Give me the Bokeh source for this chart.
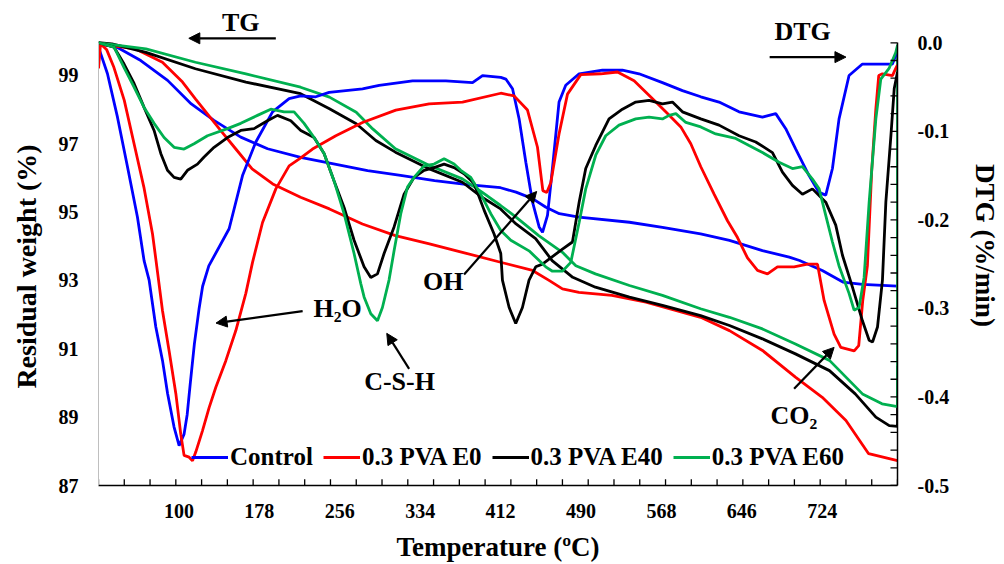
from bokeh.plotting import figure
from bokeh.models import (Range1d, LinearAxis, FixedTicker, Legend, LegendItem,
                          Label, Arrow, NormalHead, PrintfTickFormatter)
from bokeh.embed import file_html
from bokeh.resources import INLINE

# ---------------- data ----------------
x_tick_labels = [100, 178, 256, 334, 412, 490, 568, 646, 724]
x_tick_marks = list(range(22, 798, 25))
w_ticks = [87, 89, 91, 93, 95, 97, 99]
dtg_ticks = [0.0, -0.1, -0.2, -0.3, -0.4, -0.5]
dtg_minor_ticks = [round(-0.02 * k, 2) for k in range(0, 26)]

series_names = ["Control", "0.3 PVA E0", "0.3 PVA E40", "0.3 PVA E60"]
series_colors = ["#0000FF", "#FF0000", "#000000", "#00B050"]

# TG curves (left axis, residual weight %)
tg_control_t = [22, 40, 63, 89, 112, 134, 160, 186, 218, 250, 283, 315, 348, 380, 412, 427, 443, 456,
                469, 488, 537, 569, 606, 634, 666, 692, 702, 724, 744, 763, 797]
tg_control_w = [99.92, 99.82, 99.43, 98.85, 98.16, 97.68, 97.19, 96.85, 96.6, 96.41, 96.21, 96.07, 95.92,
                95.8, 95.71, 95.58, 95.39, 95.14, 94.95, 94.85, 94.70, 94.55, 94.36, 94.17, 93.87, 93.68,
                93.58, 93.29, 92.95, 92.88, 92.83]

tg_e0_t = [22, 58, 84, 103.5, 116, 129, 142, 155, 171, 191, 218, 246, 278, 310, 343, 375, 412, 443, 459,
           472, 488, 520, 553, 606, 634, 666, 698, 724, 747, 769, 797]
tg_e0_w = [99.92, 99.77, 99.38, 98.80, 98.31, 97.82, 97.33, 96.85, 96.26, 95.82, 95.43, 95.09, 94.65, 94.31,
           94.07, 93.82, 93.53, 93.29, 93.0, 92.75, 92.65, 92.56, 92.36, 91.92, 91.53, 90.95, 90.17, 89.58,
           88.90, 87.93, 87.73]

tg_e40_t = [22, 35, 68, 116, 165, 218, 246, 272, 291, 310, 343, 375, 394, 412, 427, 446, 462, 482, 504,
            537, 569, 606, 634, 666, 698, 731, 756, 776, 789, 797, 797]
tg_e40_w = [99.95, 99.92, 99.67, 99.19, 98.80, 98.46, 98.02, 97.58, 97.09, 96.75, 96.26, 95.87, 95.43,
            95.09, 94.65, 94.22, 93.58, 93.09, 92.80, 92.51, 92.27, 91.97, 91.68, 91.29, 90.85, 90.36,
            89.68, 89.0, 88.75, 88.73, 90.5]

tg_e60_t = [22, 68, 116, 165, 218, 246, 272, 288, 310, 343, 375, 394, 412, 427, 449, 472, 485, 504, 537,
            569, 606, 634, 666, 698, 731, 763, 782, 797, 797]
tg_e60_w = [99.95, 99.77, 99.38, 99.04, 98.65, 98.36, 97.92, 97.43, 96.85, 96.36, 95.97, 95.58, 95.19,
            94.85, 94.31, 93.82, 93.43, 93.19, 92.85, 92.56, 92.17, 91.92, 91.58, 91.14, 90.66, 89.68,
            89.39, 89.31, 99.9]

# DTG curves (right axis, %/min)
dtg_control_t = [22, 30.7, 40.4, 50.1, 59.8, 66.2, 71.1, 77.6, 84.1, 89, 95.3, 100.2, 105, 108, 111, 115,
                 119.6, 123, 129, 148.7, 161.7, 174.6, 190.8, 206.9, 218.2, 232.8, 245.7, 278.1, 294.2,
                 326.6, 358.9, 384.8, 394.5, 412.2, 417.1, 423.6, 430, 436.5, 443, 449.4, 452.7, 457.5,
                 462.3, 468.7, 475.2, 488.2, 510.8, 530.2, 546.3, 569, 588.4, 606.2, 623.9, 643.3, 666,
                 678.9, 688.6, 698.3, 711.2, 720.9, 727.4, 733.9, 740.3, 750, 763, 782.4, 792.1, 795.3, 797]
dtg_control_d = [-0.005, -0.035, -0.084, -0.140, -0.197, -0.246, -0.268, -0.321, -0.359, -0.396, -0.434,
                 -0.455, -0.442, -0.420, -0.385, -0.340, -0.300, -0.275, -0.252, -0.210, -0.150, -0.112,
                 -0.078, -0.063, -0.060, -0.061, -0.056, -0.052, -0.048, -0.043, -0.043, -0.045, -0.037,
                 -0.039, -0.041, -0.052, -0.086, -0.135, -0.180, -0.208, -0.214, -0.195, -0.142, -0.067,
                 -0.048, -0.035, -0.031, -0.031, -0.035, -0.045, -0.054, -0.061, -0.067, -0.078, -0.084,
                 -0.080, -0.097, -0.120, -0.150, -0.169, -0.172, -0.142, -0.086, -0.037, -0.024, -0.024,
                 -0.024, -0.014, -0.006]

dtg_e0_t = [22, 24, 30, 37, 47, 56.5, 66, 74.4, 77.8, 84, 90.5, 97, 101.8, 105, 109.9, 113.2, 116.4, 122.9,
            129.3, 135.8, 145.5, 155.2, 164.9, 171.4, 181.1, 194, 206.9, 218.2, 229.6, 252.2, 278.1, 310.4,
            342.7, 375.1, 412.2, 425.1, 438.1, 447.8, 453, 456.8, 460.7, 468.7, 476.9, 489.8, 509.2, 525.4,
            541.5, 551.2, 560.9, 573.9, 586.8, 596.5, 606.2, 619.1, 632.1, 641.8, 651.5, 661.2, 670.9,
            680.6, 696.7, 709.7, 719.4, 725.8, 735.5, 742, 748.5, 755, 759.4, 763.3, 767.8, 772, 775.9,
            778.8, 782.4, 792.1, 795.3, 797]
dtg_e0_d = [-0.029, -0.001, -0.008, -0.028, -0.065, -0.114, -0.163, -0.216, -0.246, -0.302, -0.348, -0.396,
            -0.442, -0.466, -0.468, -0.472, -0.462, -0.438, -0.412, -0.389, -0.359, -0.325, -0.283, -0.248,
            -0.203, -0.165, -0.139, -0.130, -0.120, -0.105, -0.090, -0.076, -0.069, -0.067, -0.057, -0.060,
            -0.076, -0.118, -0.167, -0.169, -0.158, -0.103, -0.058, -0.036, -0.035, -0.033, -0.043, -0.054,
            -0.065, -0.080, -0.095, -0.114, -0.140, -0.171, -0.201, -0.220, -0.243, -0.257, -0.261, -0.253,
            -0.253, -0.250, -0.250, -0.291, -0.329, -0.344, -0.346, -0.348, -0.342, -0.291, -0.252, -0.144,
            -0.076, -0.037, -0.035, -0.037, -0.029, -0.025]

dtg_e40_t = [22, 37.1, 46.8, 56.5, 66.2, 75.9, 82.4, 88.9, 95.3, 101.8, 108.3, 118, 124.4, 134.1, 147.1,
             160, 172.9, 185.9, 195.6, 208.5, 218.2, 231.1, 240.8, 250.5, 260.2, 269.9, 279.6, 286.1,
             292.6, 299, 308.7, 318.4, 328.1, 337.8, 347.5, 357.2, 366.9, 376.6, 386.3, 396, 405.7, 412.2,
             413.8, 420.3, 426.7, 433.2, 439.6, 446.1, 452.6, 472, 481.7, 488.2, 494.6, 504.3, 517.2, 530.2,
             543.1, 556, 569, 578.7, 588.4, 606.2, 623.9, 643.3, 659.5, 675.7, 685.4, 695.1, 704.8, 714.5,
             727.4, 737.1, 743.6, 753.3, 763, 769.5, 772.8, 777.6, 782.4, 785.7, 790.6, 793.8, 797]
dtg_e40_d = [0.0, -0.005, -0.024, -0.046, -0.073, -0.099, -0.125, -0.144, -0.152, -0.154, -0.144, -0.137,
             -0.129, -0.118, -0.107, -0.099, -0.097, -0.088, -0.082, -0.088, -0.099, -0.107, -0.125,
             -0.156, -0.186, -0.223, -0.253, -0.265, -0.261, -0.238, -0.208, -0.171, -0.152, -0.144,
             -0.141, -0.137, -0.141, -0.148, -0.159, -0.189, -0.216, -0.238, -0.268, -0.299, -0.317,
             -0.299, -0.268, -0.253, -0.250, -0.233, -0.225, -0.180, -0.142, -0.116, -0.086, -0.075,
             -0.067, -0.065, -0.069, -0.067, -0.078, -0.086, -0.093, -0.105, -0.112, -0.124, -0.146,
             -0.161, -0.171, -0.165, -0.180, -0.206, -0.240, -0.276, -0.314, -0.336, -0.338, -0.321,
             -0.268, -0.180, -0.105, -0.052, -0.033]

dtg_e60_t = [22, 37.1, 46.8, 56.5, 66.2, 75.9, 85.6, 95.3, 105, 114.7, 127.7, 147.1, 160, 176.2, 189.1,
             202, 211.7, 221.4, 231.1, 240.8, 250.5, 260.2, 269.9, 276.4, 279.6, 286.1, 292.6, 297.4, 303.8,
             308.7, 315.2, 321.7, 328.1, 337.8, 347.5, 357.2, 366.9, 373.4, 383.1, 392.8, 402.5, 412.2,
             421.9, 439.6, 455.8, 462.3, 472, 480.1, 488.2, 494.6, 504.3, 514, 526.9, 543.1, 556, 569,
             575.5, 582, 591.7, 606.2, 620.7, 640.1, 653, 666, 682.1, 695.1, 704.8, 714.5, 721, 727.4,
             733.9, 740.3, 750, 754.9, 759.7, 764.6, 769.5, 776, 780.8, 788.8, 795.3, 797]
dtg_e60_d = [0.0, -0.005, -0.028, -0.050, -0.073, -0.091, -0.107, -0.118, -0.120, -0.114, -0.105, -0.097,
             -0.091, -0.082, -0.075, -0.078, -0.078, -0.091, -0.107, -0.125, -0.156, -0.193, -0.238,
             -0.272, -0.287, -0.306, -0.314, -0.299, -0.268, -0.235, -0.193, -0.163, -0.152, -0.139,
             -0.137, -0.131, -0.137, -0.144, -0.152, -0.171, -0.193, -0.212, -0.223, -0.235, -0.253,
             -0.258, -0.258, -0.248, -0.203, -0.165, -0.127, -0.105, -0.093, -0.086, -0.084, -0.086,
             -0.082, -0.080, -0.090, -0.095, -0.103, -0.108, -0.116, -0.124, -0.135, -0.142, -0.140,
             -0.154, -0.165, -0.195, -0.225, -0.252, -0.283, -0.302, -0.299, -0.265, -0.180, -0.086,
             -0.041, -0.029, -0.011, -0.003]

tg_t = [tg_control_t, tg_e0_t, tg_e40_t, tg_e60_t]
tg_w = [tg_control_w, tg_e0_w, tg_e40_w, tg_e60_w]
dtg_t = [dtg_control_t, dtg_e0_t, dtg_e40_t, dtg_e60_t]
dtg_d = [dtg_control_d, dtg_e0_d, dtg_e40_d, dtg_e60_d]

# ---------------- figure ----------------
FONT = "Liberation Serif"
X_MIN, X_MAX = 22, 797
W_MIN, W_MAX = 87, 99.95      # drawn extent of the weight axis
D_MIN, D_MAX = -0.5, 0.0      # drawn extent of the DTG axis

# frame extends above the axes' extent so that the TG / DTG notes fit inside it
p = figure(width=1004, height=564, output_backend="svg", toolbar_location=None,
           x_range=Range1d(X_MIN, X_MAX), y_range=Range1d(87, 101.04),
           min_border_left=98, min_border_right=107, min_border_top=5, min_border_bottom=79)
p.extra_y_ranges = {"dtg": Range1d(-0.5, 0.0421)}
p.xgrid.visible = False
p.ygrid.visible = False
p.outline_line_color = None

for t, w, c in zip(tg_t, tg_w, series_colors):
    p.line(t, w, line_color=c, line_width=2.8)

dtg_renderers = []
for t, d, c in zip(dtg_t, dtg_d, series_colors):
    r = p.line(t, d, line_color=c, line_width=2.8, y_range_name="dtg")
    dtg_renderers.append(r)

# inward tick marks drawn as short segments from the axis lines
nx = len(x_tick_marks)
p.segment(x0=x_tick_marks, y0=[W_MIN] * nx, x1=x_tick_marks, y1=[W_MIN + 0.18] * nx,
          line_color="black", line_width=1.3)
nd = len(dtg_minor_ticks)
p.segment(x0=[X_MAX - 6.8] * nd, y0=dtg_minor_ticks, x1=[X_MAX] * nd, y1=dtg_minor_ticks,
          line_color="black", line_width=1.3, y_range_name="dtg")

# x axis
xa = p.xaxis[0]
xa.ticker = FixedTicker(ticks=x_tick_labels)
xa.major_tick_in = 0
xa.major_tick_out = 0
xa.minor_tick_in = 0
xa.minor_tick_out = 0
xa.axis_line_color = "black"
xa.axis_line_width = 1.5
xa.axis_label = "Temperature (ºC)"
xa.major_label_standoff = 18
xa.axis_label_standoff = 11

# left axis
ya = p.yaxis[0]
ya.ticker = FixedTicker(ticks=w_ticks)
ya.bounds = (W_MIN, W_MAX)
ya.major_tick_in = 0
ya.major_tick_out = 0
ya.minor_tick_in = 0
ya.minor_tick_out = 0
ya.axis_line_color = "#bfbfbf"
ya.axis_line_width = 1
ya.axis_label = "Residual weight (%)" + "\u00a0" * 6
ya.major_label_standoff = 20
ya.axis_label_standoff = 14

# right axis
ra = LinearAxis(y_range_name="dtg", ticker=FixedTicker(ticks=dtg_ticks),
                formatter=PrintfTickFormatter(format="%.1f"), bounds=(D_MIN, D_MAX))
ra.major_tick_in = 0
ra.major_tick_out = 0
ra.minor_tick_in = 0
ra.minor_tick_out = 0
ra.axis_line_color = "black"
ra.axis_line_width = 1.5
ra.axis_label = "DTG (%/min)"
ra.major_label_standoff = 20
ra.axis_label_standoff = 18
p.add_layout(ra, "right")

for ax in (xa, ya, ra):
    ax.major_label_text_font = FONT
    ax.major_label_text_font_style = "bold"
    ax.major_label_text_font_size = "20px"
    ax.major_label_text_color = "black"
    ax.axis_label_text_font = FONT
    ax.axis_label_text_font_style = "bold"
    ax.axis_label_text_font_size = "27px"
    ax.axis_label_text_color = "black"
ya.axis_label_text_font_size = "28px"

# legend
legend = Legend(items=[LegendItem(label=n, renderers=[r]) for n, r in zip(series_names, dtg_renderers)],
                orientation="horizontal", location=(93, 14))
legend.label_text_font = FONT
legend.label_text_font_style = "bold"
legend.label_text_font_size = "25px"
legend.label_text_color = "black"
legend.glyph_width = 37
legend.glyph_height = 22
legend.label_height = 22
legend.label_standoff = 2
legend.spacing = 10
legend.padding = 0
legend.margin = 0
legend.background_fill_alpha = 0
legend.border_line_alpha = 0
p.add_layout(legend)

# annotations
def add_label(txt, x, y):
    p.add_layout(Label(x=x, y=y, text=txt, text_font=FONT, text_font_style="bold",
                       text_font_size="26px", text_align="center", text_baseline="middle",
                       text_color="black"))

def add_arrow(x0, y0, x1, y1):
    p.add_layout(Arrow(end=NormalHead(size=11, fill_color="black", line_color="black"),
                       x_start=x0, y_start=y0, x_end=x1, y_end=y1,
                       line_color="black", line_width=2.2))

add_label("TG", 160, 100.54)
add_arrow(194.0, 100.08, 109.6, 100.08)
add_label("DTG", 705, 100.29)
add_arrow(673, 99.53, 747, 99.53)
add_label("H₂O", 254, 92.18)
add_arrow(220, 92.10, 136, 91.75)
add_label("C-S-H", 314, 90.04)
add_arrow(323.3, 90.41, 301.6, 91.45)
add_label("OH", 356.4, 92.97)
add_arrow(376.6, 93.17, 447, 95.6)
add_label("CO₂", 696.4, 89.05)
add_arrow(696.7, 89.83, 735.5, 91.04)

open("out.html", "w").write(file_html(p, INLINE))
